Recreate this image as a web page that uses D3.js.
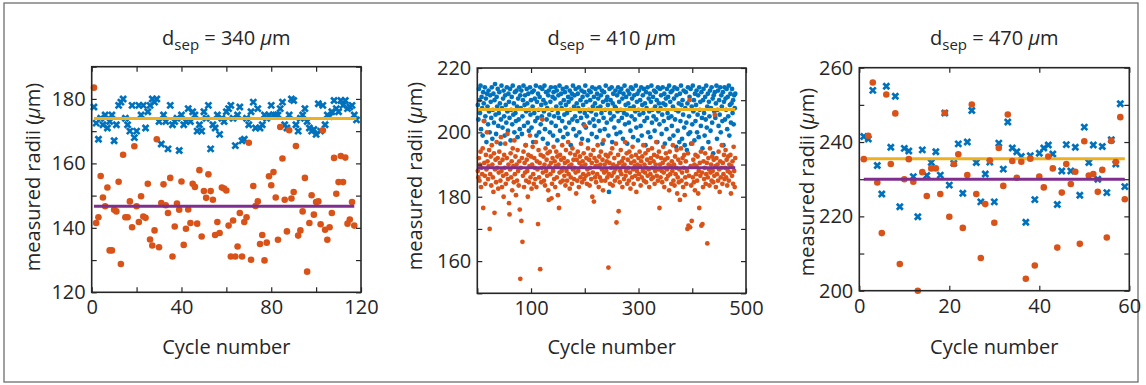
<!DOCTYPE html>
<html><head><meta charset="utf-8">
<script src="https://cdn.jsdelivr.net/npm/d3@7"></script>
<style>
html,body{margin:0;padding:0;background:#fff;}
svg{display:block;}
text{font-family:"Open Sans",sans-serif;fill:#262626;}
</style></head>
<body>
<svg id="chart" width="1146" height="385"></svg>
<script>
// ---------------- DATA ----------------
const titles = ["340", "410", "470"];
const xLabel = "Cycle number";
const yLabel = "measured radii (";

// panel 1 (d_sep = 340 um), cycle = index + 1
const p1Blue = [177.5,172.5,167.5,174,172,175,171,173,175,167,172,178,179,180,174,172,170,178,168,170,
178,175,178,171,176,178,180,179,180,173,166,175,173,164.5,178,172,173,174,164,175,
172,173,177,173,176,175,170,172,170,176,174,178,164.5,172,171,175,169,174,173,176,
177,178,174,165.5,175,177.5,167,167.5,174,172,176,179,171,177,171,172,175,174,175,178,
175,175,175,177,179,172,171,175,180,179.5,172,170,174,175,177,173,171,170,170.5,169,
178.5,170,178,172,175,174.5,176,179.5,177,176,179.5,178,179.5,177,177.5,178,175,173.5];
const p1Orange = [183.5,141.5,143.3,156.1,149.4,146.7,152.5,133,133,145.6,145.1,154.3,128.8,162.7,143.3,143.3,148.2,140.2,165.3,146.7,
141.8,149.8,143.5,143.1,153.7,136.4,134.5,139.2,167.5,134,147.7,153.5,147,144.6,155.5,131.1,140.4,147.5,145.6,154.4,
134.7,139.7,145.7,141.5,153.7,152.7,141.3,157.9,137.3,151.4,149.3,156.6,151.4,148.7,137.8,141.8,138.4,152.5,152.2,151.6,
140.7,131.1,142.3,131.1,134.2,144.6,131.1,141.8,143.3,166.4,130.1,153,146.8,148.2,135,137.8,129.9,135.4,156,153.2,
157.3,149.4,136.3,171.3,161.5,148.7,138.9,170.3,149.1,151.1,165.4,137.6,139.2,145.1,155.5,126.4,141.5,150.1,144.1,148,
148.2,141.1,170.3,139.4,136.3,140.2,144.6,161.7,150.6,154.2,162.3,154.2,161.8,141.3,142.6,148,140.7];
const p1MeanBlue = 173.9, p1MeanOrange = 146.7;

// panel 2 (d_sep = 410 um)
const p2Blue = [208.5,204,213.5,210,206,214.5,201,211,207.5,199,212.5,209,203.5,214,205,210.5,197,212,208,202.5,
213,206.5,200,211.5,209.5,204.5,214,198,207,212,203,210,215,205.5,199.5,211,208,213.5,202,206,
212.5,209,196.5,204,214.5,207.5,201.5,210.5,213,205,199,211.5,208.5,203,214,206.5,200.5,212,209.5,204.5,
213.5,197.5,207,211,202.5,214.5,205.5,209,200,212.5,206,203.5,213,208,198.5,210.5,204,214,201,211.5,
207.5,213,199.5,205,210,214.5,202,208.5,211.5,196,206.5,213.5,209,203,212,200.5,207,214,205.5,210,
201.5,212.5,208,197,213,206,210.5,203.5,214.5,199,209.5,204.5,212,207,200,211,214,202.5,208.5,205,
213.5,198,210,206.5,214.5,201,209,212.5,204,207.5,196.5,211.5,213,205.5,200,209.5,214,203,207,211,
199,212.5,205,210.5,214,202,208,213,197.5,206,211.5,204.5,214.5,200.5,209,212,207.5,203.5,213.5,198.5,
210,205.5,212.5,201.5,208.5,214,206,199.5,211,209.5,203,213,207,196,210.5,212,204,214.5,201,208,
211.5,205,213.5,199,209,203.5,212,207.5,214,200,206.5,210,204.5,213,198,211,208.5,202.5,212.5,206,
214.5,201.5,209.5,205,211.5,197.5,207,213,203,210,212.5,206.5,199.5,214,208,204,211,202,209,213.5,
205.5,198.5,212,207.5,210.5,203.5,214,200.5,208,211.5,206,213,196.5,209.5,204.5,212.5,201,207,214.5,210,
203,211,208.5,199,181.5,213.5,206,210,204,214,197,209,212,205,201.5,208,213,207.5,199.5,211.5,
206.5,214,203.5,209.5,212.5,200,207,213.5,204.5,210.5,198,212,206,214.5,202.5,208.5,211,205.5,196.5,213,
209,203,212,207.5,200.5,214,205,210.5,213.5,198.5,208,211.5,204,206.5,214.5,201.5,209.5,212,197.5,207,
213,205.5,210,202,214,199,208.5,211.5,206,213.5,203.5,209,196,212.5,207.5,204.5,214,200,210.5,206.5,
212,198.5,209.5,214.5,203,207,211,205,213,200.5,208,212.5,204,210,197,214,206.5,209,202.5,213.5,
207.5,211.5,199.5,205.5,214,209,203.5,212,196.5,208.5,210.5,201,213.5,206,211,204.5,214.5,198,209.5,212.5,
205,202,213,208,199,210.5,214,204,207,195.5,211.5,213.5,200.5,206.5,209,197,212,203.5,214.5,208.5,
198,210,205.5,213,201.5,196,207.5,212.5,203,194.5,209,214,199.5,205,211,200,213.5,196.5,208,202.5,
214.5,206.5,210,197.5,212,203.5,208.5,213,200,205.5,211.5,198.5,214,207,209.5,202,212.5,204.5,195,210,
213.5,206,199,211,204,214.5,201.5,208,212,197,209.5,205,213,200.5,207.5,214,203,210.5,193.5,211.5,
206.5,212.5,204.5,209,214.5,198,207,213,202,210,205.5,214,200,211.5,208,203.5,212.5,196,209.5,214,
204,210.5,207,213.5,201,211,205,214.5,199,208.5,212,203,209,213.5,206,210,202.5,211.5,207.5,212];
const p2Orange = [188,186,192,185,190,194,183,189,187,195,176.5,203.5,190.5,186.5,184,193,188.5,200,191,185.5,
189.5,194.5,170,187,192.5,183.5,196,190,186,181.5,193.5,175,188.5,191.5,184.5,197,189,192,182.5,187.5,
194,190.5,185,198.5,188,183,191.5,186.5,180,193,189,196.5,184,187,192,199.5,185.5,190,178,174.5,
188.5,193.5,186,191,182,195,189.5,184.5,197.5,187,192.5,180.5,190,185,194.5,188,183.5,191,176,154.5,
189,172.5,192,166,186.5,194,183,190.5,187.5,196,185,191.5,188,180,193,184.5,189.5,199,186,192.5,
182.5,190,195.5,187,184,192,189,185.5,197,183,191,188.5,171.5,194.5,186,190.5,157.5,193,184.5,189,
204,187.5,192.5,185,190,183.5,195,188,191.5,186.5,193.5,182,179,189.5,194,187,190.5,179.5,184,192,
188,195.5,185.5,191,183,189.5,194,186,192.5,180.5,190,176.5,187.5,193,184.5,191.5,188,196,185,189,
192,186.5,190.5,183.5,194.5,188,185,191,197,187,189.5,182.5,193.5,186,190,184,195,188.5,191.5,185.5,
189,193,187.5,181,191.5,185,194,188,183,190.5,192.5,186,196.5,189.5,184.5,191,187,193.5,185.5,202,
190,186.5,192,184,188.5,195,187,191.5,183.5,189,193,185.5,190.5,180,187.5,194.5,178.5,192,186,189.5,
184.5,191,187,196,189.5,183,192.5,186,190,194,185,188.5,191.5,182,197.5,187.5,190,185,193,188,
191,186,192.5,158,187,190.5,184,193.5,189,186.5,195,183.5,190,187.5,192,185,188.5,196.5,172,189.5,
186,193,175.5,190.5,184.5,188,194.5,187,191,183,189.5,192,185.5,190,197,186.5,188,193.5,184,191.5,
189,185,194,187.5,182.5,190.5,192.5,186,195.5,188.5,184,191,189.5,186.5,193,181.5,188,190,185.5,192,
187,194,189.5,183.5,191,186,192.5,188,196,185,190,187.5,193.5,184.5,189,191.5,186.5,194.5,188.5,183,
190.5,187,192,185.5,195,189,186,191,193,184,188,190,197,186.5,192.5,185,188.5,194,176.5,190,
186,192,188,184.5,190.5,195.5,187.5,183,191.5,189,193.5,185.5,188.5,192,186.5,190,182,194,187,189.5,
184,191,188,196,185,190,183.5,192.5,187,189,194.5,181,186,191.5,184.5,188.5,179,190.5,195,185,
187.5,192,183,189,193,180.5,186,191,184,188,170,193.5,171,186.5,210,170.5,189.5,183.5,172.5,196.5,
186,191.5,184.5,190,182,193,187,189.5,185,192.5,181,188,176.5,190.5,186.5,194,171,187.5,171.5,183,
191,185.5,189,193.5,184,187,190.5,165.5,186,192,188.5,183.5,195,187.5,190,185,192.5,188,184.5,191.5,
186.5,205.5,189.5,183,192,187,190,185,194,188.5,181.5,191,186,189,196,184,190.5,187,193,185.5,
189,194.5,186,191.5,183.5,188,192.5,185,190,187.5,193,181,189.5,186.5,191,184,195.5,188,183,192];
const p2MeanBlue = 207.1, p2MeanOrange = 189.0;

// panel 3 (d_sep = 470 um)
const p3Blue = [241.5,240.8,253.9,233.7,226,255,238.6,252.3,222.6,238.3,237.6,230.7,219.9,237.9,231,234.5,237.4,231.1,247.8,228.4,
234.3,239.5,226.2,240,248.5,234.5,223.9,231.4,234.6,223.9,239.7,232.7,245.4,238.4,237.4,236.1,218.4,236.3,224.5,237,
238.4,239.2,236.8,223.2,232.2,239.3,232.2,238.6,225.7,244,234.5,239.2,230,238.8,226.4,240.6,234.1,250.3,228];
const p3Orange = [235.4,241.7,256,229.1,215.5,252.8,234.1,247.7,207.2,230,235.4,229.3,200,231.9,225.5,232.9,232.9,226,247.8,219.9,
234.1,236.7,216.9,231.1,250.1,226,208.8,223.3,235,218.3,238.4,228.2,247.4,234.9,230.4,234.7,203.2,235.5,206.8,230.7,
227.8,236.1,232.9,211.6,226.4,234.1,228.7,232,212.6,240.2,231,231.4,226.6,232.5,214.3,240.3,234.6,246.7,224.6];
const p3MeanBlue = 235.5, p3MeanOrange = 230.0;

// axis domains and ticks
const p1XTicks = [0,20,40,60,80,100,120], p1XLabels = [0,40,80,120];
const p1YTicks = [120,130,140,150,160,170,180,190], p1YLabels = [120,140,160,180];
const p2XTicks = [0,100,200,300,400,500], p2XLabels = [100,300,500];
const p2YTicks = [150,160,170,180,190,200,210,220], p2YLabels = [160,180,200,220];
const p3XTicks = [0,20,40,60], p3XLabels = [0,20,40,60];
const p3YTicks = [200,210,220,230,240,250,260], p3YLabels = [200,220,240,260];

// ---------------- LAYOUT ----------------
const C = {blue:"#0072BD", orange:"#D95319", yellow:"#EDB120", purple:"#7E2F8E", axis:"#262626"};
const panels = [
  {title:titles[0], blue:p1Blue, orange:p1Orange, mb:p1MeanBlue, mo:p1MeanOrange,
   xd:[0,120], yd:[120,190], xt:p1XTicks, xl:p1XLabels, yt:p1YTicks, yl:p1YLabels,
   box:{l:91.7,r:361,t:66.7,b:292.3}, cross:true, r:3.3, ylx:31.5, yly:177},
  {title:titles[1], blue:p2Blue, orange:p2Orange, mb:p2MeanBlue, mo:p2MeanOrange,
   xd:[0,500], yd:[150,220], xt:p2XTicks, xl:p2XLabels, yt:p2YTicks, yl:p2YLabels,
   box:{l:477.3,r:746,t:68,b:293.3}, cross:false, r:2.4, ylx:414, yly:176},
  {title:titles[2], blue:p3Blue, orange:p3Orange, mb:p3MeanBlue, mo:p3MeanOrange,
   xd:[0,60], yd:[200,260], xt:p3XTicks, xl:p3XLabels, yt:p3YTicks, yl:p3YLabels,
   box:{l:859.3,r:1129.3,t:67.7,b:290.7}, cross:true, r:3.3, ylx:805.5, yly:182}
];

const svg = d3.select("#chart");
svg.append("rect").attr("x",4).attr("y",3).attr("width",1134).attr("height",379)
  .attr("fill","none").attr("stroke","#6e6e6e").attr("stroke-width",1.3);

const FS = 20;
panels.forEach(p => {
  const B = p.box;
  const x = d3.scaleLinear().domain(p.xd).range([B.l,B.r]);
  const y = d3.scaleLinear().domain(p.yd).range([B.b,B.t]);
  const g = svg.append("g");

  // points
  if (p.cross) {
    g.append("g").selectAll("path").data(p.blue).join("path")
      .attr("transform",(d,i)=>`translate(${x(i+1)},${y(d)})`)
      .attr("d","M-3,-3L3,3M-3,3L3,-3")
      .attr("stroke",C.blue).attr("stroke-width",2.7).attr("fill","none");
  } else {
    g.append("g").selectAll("circle").data(p.blue).join("circle")
      .attr("cx",(d,i)=>x(i+1)).attr("cy",d=>y(d)).attr("r",p.r).attr("fill",C.blue);
  }
  const n = p.blue.length;
  g.append("line").attr("x1",x(1)).attr("x2",x(n)).attr("y1",y(p.mb)).attr("y2",y(p.mb))
    .attr("stroke",C.yellow).attr("stroke-width",3);
  g.append("g").selectAll("circle").data(p.orange).join("circle")
    .attr("cx",(d,i)=>x(i+1)).attr("cy",d=>y(d)).attr("r",p.r).attr("fill",C.orange);
  g.append("line").attr("x1",x(1)).attr("x2",x(p.orange.length)).attr("y1",y(p.mo)).attr("y2",y(p.mo))
    .attr("stroke",C.purple).attr("stroke-width",3);

  // axes
  const fmtX = d => p.xl.includes(d) ? d : "";
  const fmtY = d => p.yl.includes(d) ? d : "";
  const ax = (gen, tr) => {
    const a = g.append("g").attr("transform",tr).call(gen);
    a.select(".domain").remove();
    a.selectAll("line").attr("stroke",C.axis).attr("stroke-width",1.2);
    a.selectAll("text").style("font-size",FS+"px").attr("fill",C.axis).style("font-family","'Open Sans',sans-serif");
    return a;
  };
  ax(d3.axisBottom(x).tickValues(p.xt).tickFormat(fmtX).tickSizeInner(-5).tickSizeOuter(0).tickPadding(8), `translate(0,${B.b})`);
  ax(d3.axisTop(x).tickValues(p.xt).tickFormat("").tickSizeInner(-5).tickSizeOuter(0), `translate(0,${B.t})`);
  ax(d3.axisLeft(y).tickValues(p.yt).tickFormat(fmtY).tickSizeInner(-5).tickSizeOuter(0).tickPadding(6), `translate(${B.l},0)`);
  ax(d3.axisRight(y).tickValues(p.yt).tickFormat("").tickSizeInner(-5).tickSizeOuter(0), `translate(${B.r},0)`);
  g.append("rect").attr("x",B.l).attr("y",B.t).attr("width",B.r-B.l).attr("height",B.b-B.t)
    .attr("fill","none").attr("stroke",C.axis).attr("stroke-width",1.6);

  // x label
  const cx = (B.l+B.r)/2;
  g.append("text").attr("x",cx).attr("y",354).attr("text-anchor","middle")
    .style("font-size",FS+"px").text(xLabel);
  // y label
  const yt = g.append("text").attr("transform",`translate(${p.ylx},${p.yly}) rotate(-90)`)
    .attr("text-anchor","middle").attr("dominant-baseline","central").style("font-size",FS+"px");
  yt.append("tspan").text(yLabel);
  yt.append("tspan").style("font-style","italic").text("\u03bc");
  yt.append("tspan").text("m)");
  // title
  const t = g.append("text").attr("x",cx).attr("y",45).attr("text-anchor","middle").style("font-size",FS+"px");
  t.append("tspan").text("d");
  t.append("tspan").attr("dy",5).style("font-size","15px").text("sep");
  t.append("tspan").attr("dy",-5).text(" = " + p.title + " ");
  t.append("tspan").style("font-style","italic").text("\u03bc");
  t.append("tspan").text("m");
});
</script>
</body></html>
